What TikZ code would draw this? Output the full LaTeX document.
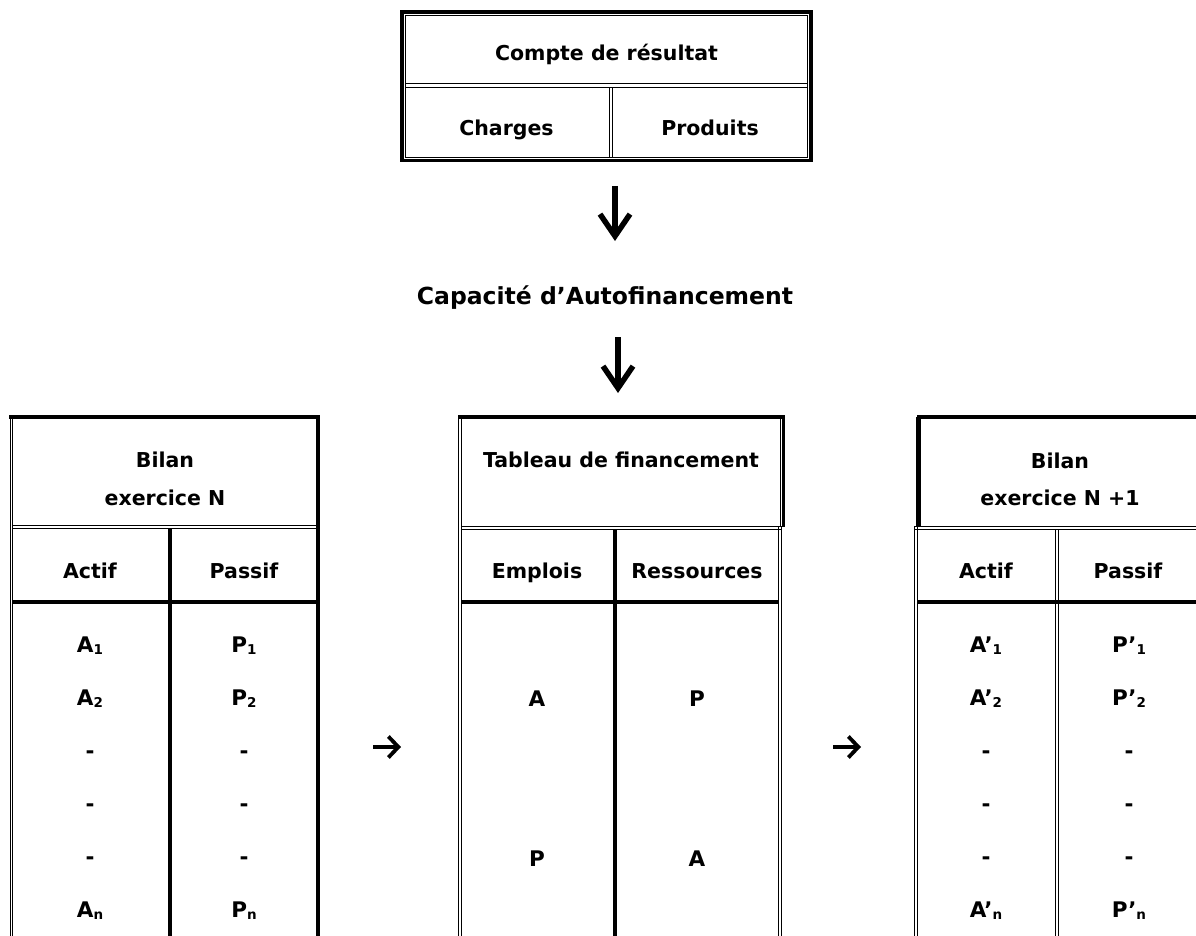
\documentclass[tikz,border=0pt]{standalone}
\usepackage{fontspec}
\setmainfont{DejaVu Sans}
\usetikzlibrary{arrows.meta}
\newcommand\subs[1]{\raisebox{-1.5pt}{\fontsize{13.5}{13.5}\selectfont #1}}
\begin{document}
\begin{tikzpicture}[x=1pt,y=-1pt,
  tk/.style={line width=3.2pt},
  tn/.style={line width=1pt},
  lbl/.style={font=\fontsize{20.5}{24}\selectfont\bfseries, inner sep=0pt, anchor=base},
  rowlbl/.style={lbl, font=\fontsize{21.5}{24}\selectfont\bfseries},
  biglbl/.style={lbl, font=\fontsize{23.5}{27}\selectfont\bfseries},
  dar/.style={line width=5.5pt, -{Straight Barb[length=22pt,width=30pt,line width=5.5pt]}},
  rar/.style={line width=3.8pt, -{Straight Barb[length=10pt,width=21pt,line width=3.8pt]}}]
\useasboundingbox[fill=white] (0,0) rectangle (1196,936);

% ---------- top table: Compte de résultat ----------
\draw[tk] (402,12) rectangle (811,160.5);
\draw[tn] (405.3,15.3) rectangle (807.7,157.2);
\draw[tn] (405.3,84) -- (807.7,84);
\draw[tn] (405.3,88) -- (807.7,88);
\draw[tn] (609.5,88) -- (609.5,157.2);
\draw[tn] (612.5,88) -- (612.5,157.2);
\node[lbl] (cr) at (606.5,61) {Compte de résultat};
\node[lbl] (ch) at (506.5,136) {Charges};
\node[lbl] (pr) at (710,136) {Produits};

% ---------- arrows and CAF ----------
\coordinate (d1s) at (615,186);
\coordinate (d1e) at (615,241);
\draw[dar] (d1s) -- (d1e);
\node[biglbl] (caf) at (605,304) {Capacité d’Autofinancement};
\coordinate (d2s) at (618,337);
\coordinate (d2e) at (618,393);
\draw[dar] (d2s) -- (d2e);

% ---------- left table: Bilan N ----------
\draw[tk] (9,417) -- (319.6,417);
\draw[tn] (10,417) -- (10,936);
\draw[tn] (12.8,417) -- (12.8,936);
\draw[tk] (318,417) -- (318,936);
\draw[tn] (12.8,525.5) -- (318,525.5);
\draw[tn] (12.8,528.5) -- (318,528.5);
\draw[tk] (170,528.5) -- (170,936);
\draw[tk] (12.8,602) -- (318,602);
\node[lbl] (lb1) at (165,467) {Bilan};
\node[lbl] (lb2) at (165,505) {exercice N};
\node[lbl] (la) at (90,578) {Actif};
\node[lbl] (lp) at (244,578) {Passif};
\node[rowlbl] (la1) at (90,652.5) {A\subs{1}};
\node[rowlbl] (la2) at (90,705.5) {A\subs{2}};
\node[rowlbl] (la3) at (90,758.5) {-};
\node[rowlbl] (la4) at (90,811.5) {-};
\node[rowlbl] (la5) at (90,864.5) {-};
\node[rowlbl] (lan) at (90,917.5) {A\subs{n}};
\node[rowlbl] (lp1) at (244,652.5) {P\subs{1}};
\node[rowlbl] (lp2) at (244,705.5) {P\subs{2}};
\node[rowlbl] (lp3) at (244,758.5) {-};
\node[rowlbl] (lp4) at (244,811.5) {-};
\node[rowlbl] (lp5) at (244,864.5) {-};
\node[rowlbl] (lpn) at (244,917.5) {P\subs{n}};

% ---------- right arrows ----------
\coordinate (r1s) at (373,747);
\coordinate (r1e) at (401,747);
\draw[rar] (r1s) -- (r1e);
\coordinate (r2s) at (833,747);
\coordinate (r2e) at (861,747);
\draw[rar] (r2s) -- (r2e);

% ---------- middle table: Tableau de financement ----------
\draw[tk] (458,417) -- (785,417);
\draw[tn] (458.5,417) -- (458.5,936);
\draw[tn] (461.5,417) -- (461.5,936);
\draw[tk] (783.5,417) -- (783.5,527);
\draw[tn] (780.3,417) -- (780.3,526);
\draw[tn] (461.5,526) -- (781.5,526);
\draw[tn] (461.5,529) -- (781.5,529);
\draw[tn] (778.5,526) -- (778.5,936);
\draw[tn] (781.5,526) -- (781.5,936);
\draw[tk] (615,529) -- (615,936);
\draw[tk] (461.5,602) -- (778.5,602);
\node[lbl] (mt) at (621,467) {Tableau de financement};
\node[lbl] (me) at (537,578) {Emplois};
\node[lbl] (mr) at (697,578) {Ressources};
\node[rowlbl] (ma1) at (537,706) {A};
\node[rowlbl] (mp1) at (697,706) {P};
\node[rowlbl] (mp2) at (537,866) {P};
\node[rowlbl] (ma2) at (697,866) {A};

% ---------- right table: Bilan N+1 ----------
\draw[tk] (917,417) -- (1196,417);
\draw[tk] (918,417) -- (918,527);
\draw[tn] (920.8,417) -- (920.8,526);
\draw[tn] (914.2,526) -- (914.2,936);
\draw[tn] (917,526) -- (917,936);
\draw[tn] (914.2,526) -- (1196,526);
\draw[tn] (914.2,529) -- (1196,529);
\draw[tn] (1055.5,529) -- (1055.5,936);
\draw[tn] (1058.5,529) -- (1058.5,936);
\draw[tk] (917,602) -- (1196,602);
\node[lbl] (rb1) at (1060,468) {Bilan};
\node[lbl] (rb2) at (1060,505) {exercice N +1};
\node[lbl] (ra) at (986,578) {Actif};
\node[lbl] (rp) at (1128,578) {Passif};
\node[rowlbl] (ra1) at (986,652.5) {A’\subs{1}};
\node[rowlbl] (ra2) at (986,705.5) {A’\subs{2}};
\node[rowlbl] (ra3) at (986,758.5) {-};
\node[rowlbl] (ra4) at (986,811.5) {-};
\node[rowlbl] (ra5) at (986,864.5) {-};
\node[rowlbl] (ran) at (986,917.5) {A’\subs{n}};
\node[rowlbl] (rp1) at (1129,652.5) {P’\subs{1}};
\node[rowlbl] (rp2) at (1129,705.5) {P’\subs{2}};
\node[rowlbl] (rp3) at (1129,758.5) {-};
\node[rowlbl] (rp4) at (1129,811.5) {-};
\node[rowlbl] (rp5) at (1129,864.5) {-};
\node[rowlbl] (rpn) at (1129,917.5) {P’\subs{n}};
\end{tikzpicture}
\end{document}
